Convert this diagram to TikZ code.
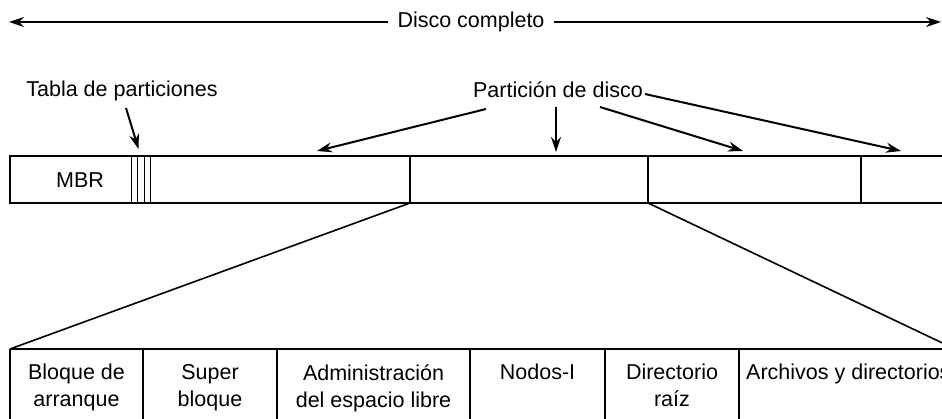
\documentclass[tikz,border=0pt]{standalone}
\usepackage{fontspec}
\setsansfont{Liberation Sans}
\usetikzlibrary{arrows.meta, positioning, calc}

\tikzset{
  lbl/.style={font=\sffamily\fontsize{21.5}{27}\selectfont, inner sep=2pt, align=center},
  ptr/.style={line width=2pt, -{Stealth[length=15pt, width=10pt]}},
  wall/.style={line width=1.6pt},
  tick/.style={line width=1pt},
}

\begin{document}
\begin{tikzpicture}[x=1pt, y=-1pt]

    % ==========================================
    % FRAME (942 x 419, y grows downward)
    % ==========================================
    \clip (0,0) rectangle (942,419);

    % Define parameters
    \def\barT{156}   % top of the disk bar
    \def\barB{203}   % bottom of the disk bar
    \def\rowT{349}   % top of the partition layout row

    % ==========================================
    % WHOLE DISK
    % ==========================================
    \node[lbl, inner xsep=9pt] (disco) at (471,22) {Disco completo};
    \coordinate (discoL) at (9,22);
    \coordinate (discoR) at (941,22);
    \draw[ptr] (disco.west) -- (discoL);
    \draw[ptr] (disco.east) -- (discoR);

    % ==========================================
    % DISK BAR
    % ==========================================
    \draw[wall] (942,\barT) -- (10,\barT) -- (10,\barB) -- (942,\barB);
    \foreach \x in {410,648,861}
        \draw[wall] (\x,\barT) -- (\x,\barB);

    % Partition table slots right after the MBR
    \foreach \x in {131,137.5,144,150.5}
        \draw[tick] (\x,\barT) -- (\x,\barB);

    \node[lbl] (mbr) at (80,180) {MBR};

    % ==========================================
    % LABELS ABOVE THE BAR
    % ==========================================
    \node[lbl] (tabla) at (122,91) {Tabla de particiones};
    \coordinate (tablaS) at (126,108);
    \coordinate (tablaE) at (138.5,149);
    \draw[ptr] (tablaS) -- (tablaE);

    \node[lbl] (particion) at (558,90) {Partición de disco};

    % Arrow starts below the label, tips just above the bar
    \coordinate (s1) at (486,109);  \coordinate (t1) at (317,151);
    \coordinate (s2) at (556,107);  \coordinate (t2) at (556,152);
    \coordinate (s3) at (600,107);  \coordinate (t3) at (743,151);
    \coordinate (s4) at (645,94);   \coordinate (t4) at (901,151);
    \foreach \i in {1,...,4}
        \draw[ptr] (s\i) -- (t\i);

    % ==========================================
    % ZOOM LINES TO THE PARTITION LAYOUT
    % ==========================================
    \coordinate (pL) at (410,\barB);
    \coordinate (pR) at (648,\barB);
    \coordinate (rowL) at (10,\rowT);
    \coordinate (rowR) at (955,\rowT);
    \draw[wall] (pL) -- (rowL);
    \draw[wall] (pR) -- (rowR);

    % ==========================================
    % PARTITION LAYOUT (open at the bottom and right)
    % ==========================================
    \draw[wall] (rowL) -- (rowR);
    \foreach \x in {10,143,277,470,605,739}
        \draw[wall] (\x,\rowT) -- (\x,430);

    \node[lbl, anchor=north] (arranque) at (76.5,362) {Bloque de\\arranque};
    \node[lbl, anchor=north] (super)    at (210,362)  {Super\\bloque};
    \node[lbl, anchor=north] (libre)    at (373.5,362) {Administración\\del espacio libre};
    \node[lbl, anchor=north] (nodos)    at (537.5,362) {Nodos-I};
    \node[lbl, anchor=north] (raiz)     at (672,362)  {Directorio\\raíz};
    \node[lbl, anchor=north west] (archivos) at (744,362) {Archivos y directorios};

\end{tikzpicture}
\end{document}
